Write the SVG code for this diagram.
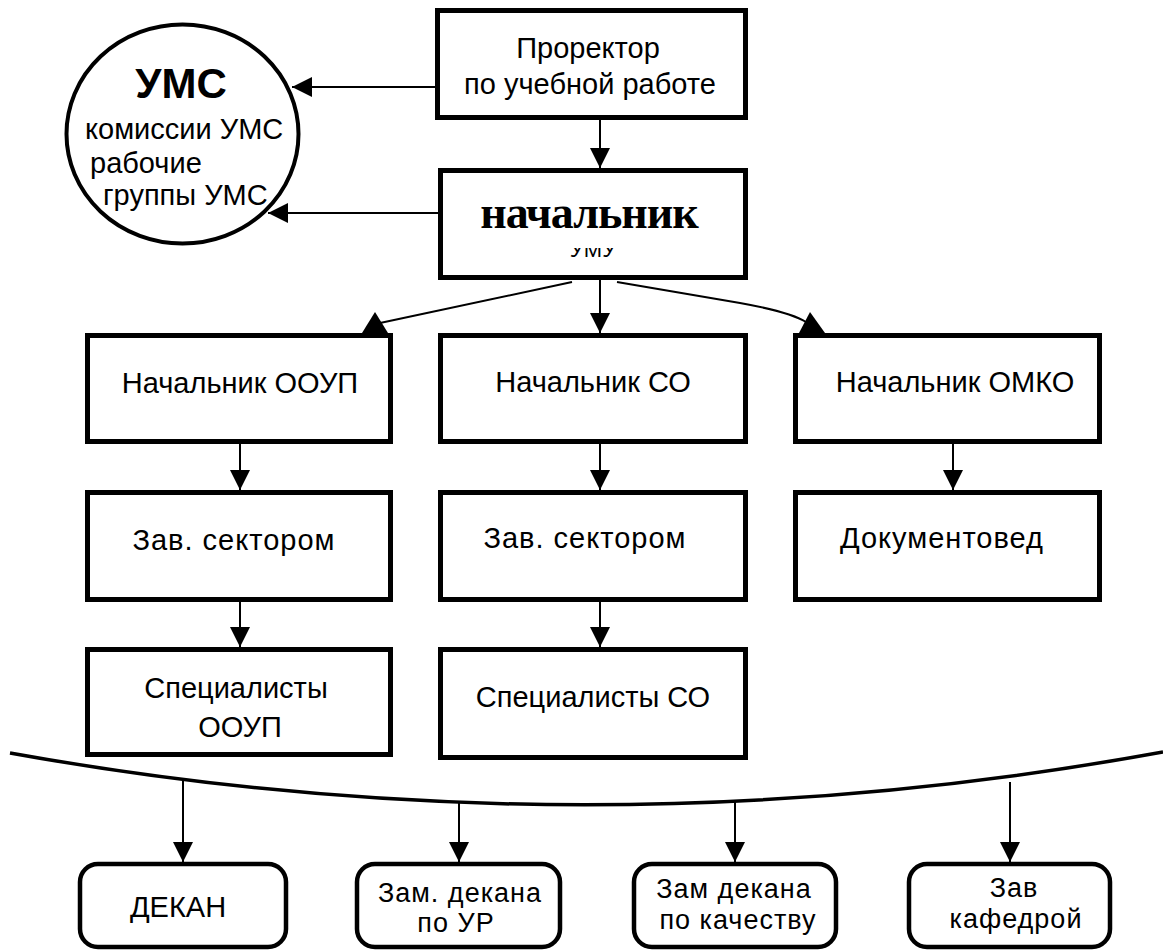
<svg xmlns="http://www.w3.org/2000/svg" width="1163" height="951" viewBox="0 0 1163 951">
<defs>
<style>
.box{fill:#fff;stroke:#000;stroke-width:5}
.rbox{fill:#fff;stroke:#000;stroke-width:4.5}
.ell{fill:#fff;stroke:#000;stroke-width:4}
.t{font-family:"Liberation Sans",Arial,sans-serif;font-size:29px;fill:#000;text-anchor:middle}
.ts{letter-spacing:1px}
.sm{font-size:27px}
.l{text-anchor:start}
.c{stroke:#000;stroke-width:2;fill:none}
.ah{fill:#000;stroke:none}
</style>
<marker id="arr" viewBox="0 0 20 20" refX="20" refY="10" markerWidth="20" markerHeight="20" markerUnits="userSpaceOnUse" orient="auto">
<path d="M0,0 L20,10 L0,20 Z" fill="#000"/>
</marker>
<clipPath id="clipUmu"><rect x="550" y="248" width="90" height="14"/></clipPath>
</defs>
<rect width="1163" height="951" fill="#fff"/>

<g id="connectors">
<line class="c" x1="435" y1="87" x2="292" y2="87" marker-end="url(#arr)"/>
<line class="c" x1="438" y1="213" x2="268" y2="213" marker-end="url(#arr)"/>
<line class="c" x1="600" y1="120" x2="600" y2="168" marker-end="url(#arr)"/>
<line class="c" x1="600" y1="280" x2="600" y2="333" marker-end="url(#arr)"/>
<line class="c" x1="572" y1="282" x2="380" y2="323"/>
<polygon class="ah" points="375,312 362,333 388,333"/>
<path class="c" d="M617,282 L740,303 Q790,312 806,322"/>
<polygon class="ah" points="810,312 799,333 825,333"/>
<line class="c" x1="240" y1="444" x2="240" y2="490" marker-end="url(#arr)"/>
<line class="c" x1="600" y1="444" x2="600" y2="490" marker-end="url(#arr)"/>
<line class="c" x1="953" y1="444" x2="953" y2="490" marker-end="url(#arr)"/>
<line class="c" x1="240" y1="602" x2="240" y2="647" marker-end="url(#arr)"/>
<line class="c" x1="600" y1="602" x2="600" y2="647" marker-end="url(#arr)"/>
<path d="M10,753 Q588,857 1163,752" fill="none" stroke="#000" stroke-width="3.5"/>
<line class="c" x1="183" y1="780" x2="183" y2="862" marker-end="url(#arr)"/>
<line class="c" x1="459" y1="801" x2="459" y2="862" marker-end="url(#arr)"/>
<line class="c" x1="735" y1="802" x2="735" y2="862" marker-end="url(#arr)"/>
<line class="c" x1="1010" y1="782" x2="1010" y2="862" marker-end="url(#arr)"/>
</g>

<g id="ums">
<ellipse class="ell" cx="182.5" cy="134" rx="116" ry="109.5"/>
<text class="t" x="181" y="98" style="font-size:42px;font-weight:bold">УМС</text>
<text class="t l" x="85" y="139">комиссии УМС</text>
<text class="t l" x="90" y="173">рабочие</text>
<text class="t l" x="103" y="205">группы УМС</text>
</g>

<g id="prorector">
<rect class="box" x="437.5" y="10.5" width="308" height="107"/>
<text class="t" x="588" y="58">Проректор</text>
<text class="t" x="590" y="94">по учебной работе</text>
</g>

<g id="nachalnik">
<rect class="box" x="440.5" y="170.5" width="305" height="107"/>
<text x="589" y="228" style="font-family:'Liberation Serif','Times New Roman',serif;font-size:46px;font-weight:bold;text-anchor:middle;letter-spacing:-1px">начальник</text>
<text class="t" x="593" y="257" clip-path="url(#clipUmu)" style="font-size:22px">УМУ</text>
</g>

<g id="n-ooup">
<rect class="box" x="87.5" y="335.5" width="303" height="106"/>
<text class="t" x="240" y="393">Начальник ООУП</text>
</g>
<g id="n-so">
<rect class="box" x="440.5" y="335.5" width="305" height="106"/>
<text class="t" x="593" y="392">Начальник СО</text>
</g>
<g id="n-omko">
<rect class="box" x="795.5" y="335.5" width="304" height="106"/>
<text class="t" x="955" y="392">Начальник ОМКО</text>
</g>

<g id="zav1">
<rect class="box" x="87.5" y="492.5" width="303" height="107"/>
<text class="t ts" x="234" y="550">Зав. сектором</text>
</g>
<g id="zav2">
<rect class="box" x="440.5" y="492.5" width="305" height="107"/>
<text class="t ts" x="585" y="548">Зав. сектором</text>
</g>
<g id="doc">
<rect class="box" x="795.5" y="492.5" width="304" height="107"/>
<text class="t ts" x="942" y="548">Документовед</text>
</g>

<g id="spec-ooup">
<rect class="box" x="87.5" y="649.5" width="303" height="105"/>
<text class="t" x="236" y="698">Специалисты</text>
<text class="t" x="240" y="737">ООУП</text>
</g>
<g id="spec-so">
<rect class="box" x="440.5" y="649.5" width="305" height="108"/>
<text class="t" x="593" y="707">Специалисты СО</text>
</g>

<g id="dekan">
<rect class="rbox" x="80" y="864" width="206" height="83" rx="18" ry="18"/>
<text class="t" x="178" y="917">ДЕКАН</text>
</g>
<g id="zam-ur">
<rect class="rbox" x="357" y="864" width="203" height="83" rx="18" ry="18"/>
<text class="t ts sm" x="460" y="902">Зам. декана</text>
<text class="t ts sm" x="456" y="932">по УР</text>
</g>
<g id="zam-kach">
<rect class="rbox" x="634" y="864" width="202" height="83" rx="18" ry="18"/>
<text class="t ts sm" x="734" y="898">Зам декана</text>
<text class="t ts sm" x="738" y="929">по качеству</text>
</g>
<g id="zav-kaf">
<rect class="rbox" x="909" y="864" width="201" height="83" rx="18" ry="18"/>
<text class="t ts sm" x="1014" y="897">Зав</text>
<text class="t ts sm" x="1016" y="928">кафедрой</text>
</g>
</svg>
